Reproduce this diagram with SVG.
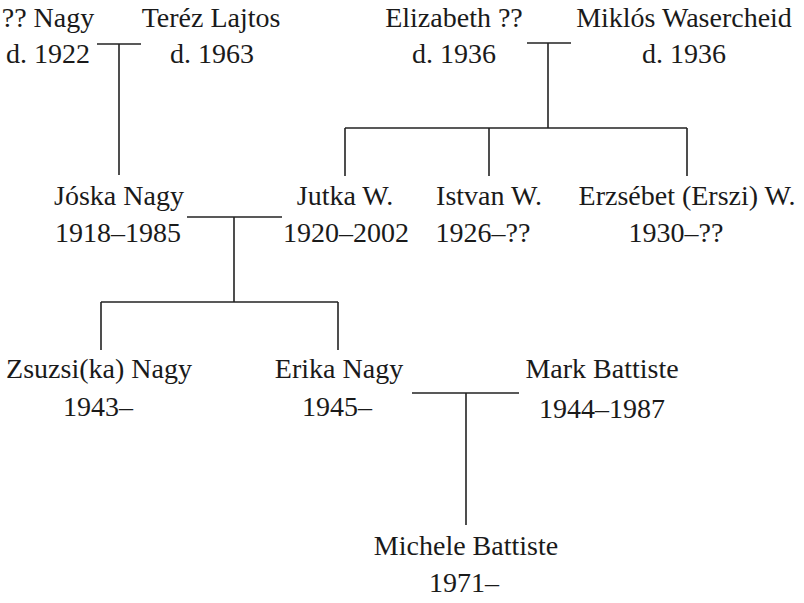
<svg xmlns="http://www.w3.org/2000/svg" width="804" height="603" viewBox="0 0 804 603">
<style>
text{font-family:"Liberation Serif","Times New Roman",serif;font-size:28px;fill:#1a1a1a;text-anchor:middle}
.c line{stroke:#222;stroke-width:1.6;fill:none}
</style>
<rect width="804" height="603" fill="#fff"/>
<g class="c" id="connectors">
<line x1="97" y1="44" x2="141" y2="44"/>
<line x1="119" y1="44" x2="119" y2="175"/>
<line x1="527" y1="43" x2="571" y2="43"/>
<line x1="548" y1="43" x2="548" y2="128"/>
<line x1="345" y1="128" x2="687" y2="128"/>
<line x1="345" y1="128" x2="345" y2="176"/>
<line x1="489" y1="128" x2="489" y2="176"/>
<line x1="687" y1="128" x2="687" y2="176"/>
<line x1="187" y1="217" x2="282" y2="217"/>
<line x1="234" y1="217" x2="234" y2="302"/>
<line x1="101" y1="302" x2="338" y2="302"/>
<line x1="101" y1="302" x2="101" y2="350"/>
<line x1="338" y1="302" x2="338" y2="350"/>
<line x1="412" y1="393" x2="519" y2="393"/>
<line x1="466" y1="393" x2="466" y2="525"/>
</g>
<g id="nagy"><text x="48" y="27">?? Nagy</text><text x="48" y="63">d. 1922</text></g>
<g id="terez"><text x="211" y="27">Teréz Lajtos</text><text x="212" y="63">d. 1963</text></g>
<g id="elizabeth"><text x="454" y="27">Elizabeth ??</text><text x="454" y="63">d. 1936</text></g>
<g id="miklos"><text x="684" y="27">Miklós Wasercheid</text><text x="684" y="63">d. 1936</text></g>
<g id="joska"><text x="119" y="205">Jóska Nagy</text><text x="118" y="242">1918–1985</text></g>
<g id="jutka"><text x="345" y="205">Jutka W.</text><text x="346" y="242">1920–2002</text></g>
<g id="istvan"><text x="489" y="205">Istvan W.</text><text x="483" y="242">1926–??</text></g>
<g id="erzsebet"><text x="687" y="205">Erzsébet (Erszi) W.</text><text x="676" y="242">1930–??</text></g>
<g id="zsuzsi"><text x="99" y="378">Zsuzsi(ka) Nagy</text><text x="98" y="416">1943–</text></g>
<g id="erika"><text x="339" y="378">Erika Nagy</text><text x="337" y="416">1945–</text></g>
<g id="mark"><text x="602" y="378">Mark Battiste</text><text x="602" y="418">1944–1987</text></g>
<g id="michele"><text x="466" y="555">Michele Battiste</text><text x="464" y="592">1971–</text></g>
</svg>
